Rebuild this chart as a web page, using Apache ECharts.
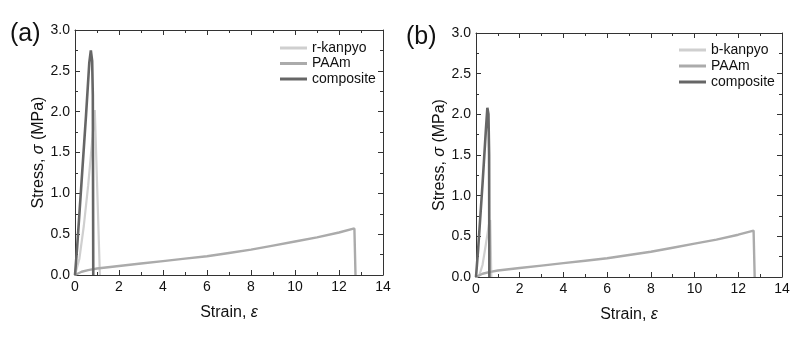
<!DOCTYPE html>
<html><head><meta charset="utf-8">
<script src="https://cdn.jsdelivr.net/npm/echarts@6/dist/echarts.min.js"></script>
<style>html,body{margin:0;padding:0;background:#fff}#c{width:800px;height:343px}</style>
</head><body><div id="c"></div>
<script>
// Panel (a)
const aKanpyo = [[0,0],[0.2,0.2],[0.4,0.6],[0.6,1.1],[0.8,1.7],[0.9,2.02],[0.95,2.0],[1.12,0.1],[1.13,0]];
const aPAAm = [[0,0],[0.3,0.04],[0.6,0.06],[1,0.08],[2,0.11],[3,0.14],[4,0.17],[5,0.2],[6,0.23],[7,0.27],[8,0.31],[9,0.36],[10,0.41],[11,0.46],[12,0.52],[12.7,0.57],[12.75,0]];
const aComposite = [[0,0],[0.1,0.35],[0.3,1.15],[0.5,1.95],[0.65,2.6],[0.72,2.75],[0.78,2.62],[0.81,2.2],[0.83,0]];
// Panel (b)
const bKanpyo = [[0,0],[0.15,0.02],[0.3,0.15],[0.45,0.4],[0.6,0.66],[0.65,0.7],[0.68,0.3],[0.7,0]];
const bPAAm = [[0,0],[0.3,0.04],[0.6,0.06],[1,0.08],[2,0.11],[3,0.14],[4,0.17],[5,0.2],[6,0.23],[7,0.27],[8,0.31],[9,0.36],[10,0.41],[11,0.46],[12,0.52],[12.7,0.57],[12.75,0]];
const bComposite = [[0,0],[0.1,0.35],[0.3,1.15],[0.45,1.8],[0.52,2.08],[0.57,2.0],[0.6,1.5],[0.61,0]];
const namesA = ['r-kanpyo','PAAm','composite'];
const namesB = ['b-kanpyo','PAAm','composite'];
const xTicks = {min:0,max:14,interval:2};
const yTicks = {min:0,max:3,interval:0.5};
const colors = ['#cfcfcf','#ababab','#666666'];

const font = 'Liberation Sans, Arial, sans-serif';
function xAx(grid, pos, show) {
  return {type:'value', gridIndex:grid, position:pos, min:xTicks.min, max:xTicks.max, interval:xTicks.interval,
    axisLine:{show:true, onZero:false, lineStyle:{color:'#333',width:1}},
    axisTick:{show:true, inside:true, length:5, lineStyle:{color:'#333'}},
    minorTick:{show:true, splitNumber:2, length:3, lineStyle:{color:'#333'}},
    splitLine:{show:false},
    axisLabel:{show:show, color:'#111', fontSize:14, fontFamily:font, margin:5, formatter:v=>String(v)},
    name: show ? 'Strain, {i|ε}' : '', nameLocation:'middle', nameGap:30,
    nameTextStyle:{color:'#111', fontSize:16, fontFamily:font, rich:{i:{fontStyle:'italic', fontSize:16, fontFamily:font, color:'#111'}}}};
}
function yAx(grid, pos, show) {
  return {type:'value', gridIndex:grid, position:pos, min:yTicks.min, max:yTicks.max, interval:yTicks.interval,
    axisLine:{show:true, onZero:false, lineStyle:{color:'#333',width:1}},
    axisTick:{show:true, inside:true, length:5, lineStyle:{color:'#333'}},
    minorTick:{show:true, splitNumber:2, length:3, lineStyle:{color:'#333'}},
    splitLine:{show:false},
    axisLabel:{show:show, color:'#111', fontSize:14, fontFamily:font, margin:5, formatter:v=>v.toFixed(1)},
    name: show ? 'Stress, {i|σ} (MPa)' : '', nameLocation:'middle', nameGap:27, nameRotate:90,
    nameTextStyle:{color:'#111', fontSize:16, fontFamily:font, rich:{i:{fontStyle:'italic', fontSize:16, fontFamily:font, color:'#111'}}}};
}
function ser(name, data, idx, color, w) {
  return {type:'line', name:name, data:data, xAxisIndex:idx*2, yAxisIndex:idx*2, showSymbol:false, symbol:'none',
    lineStyle:{color:color, width:w}, itemStyle:{color:color}, animation:false};
}
const chart = echarts.init(document.getElementById('c'), null, {renderer:'canvas'});
chart.setOption({
  animation:false,
  backgroundColor:'#fff',
  grid:[{left:75, top:30, width:308, height:245}, {left:476, top:33, width:306, height:244}],
  xAxis:[xAx(0,'bottom',true), xAx(0,'top',false), xAx(1,'bottom',true), xAx(1,'top',false)],
  yAxis:[yAx(0,'left',true), yAx(0,'right',false), yAx(1,'left',true), yAx(1,'right',false)],
  legend:[
    {data:namesA.map(n=>({name:n})), orient:'vertical', left:280, top:41, padding:0, itemWidth:27, itemHeight:3, itemGap:1.5, icon:'rect',
     textStyle:{fontSize:14, fontFamily:font, color:'#111', padding:[0,0,0,0]}, selectedMode:false},
    {data:namesB.map(n=>({name:n+' '})), orient:'vertical', left:679, top:43, padding:0, itemWidth:27, itemHeight:3, itemGap:2, icon:'rect',
     textStyle:{fontSize:14, fontFamily:font, color:'#111', padding:[0,0,0,0]}, selectedMode:false, formatter:n=>n.trim()}
  ],
  series:[
    ser(namesA[0], aKanpyo, 0, colors[0], 2.2),
    ser(namesA[1], aPAAm, 0, colors[1], 2.4),
    ser(namesA[2], aComposite, 0, colors[2], 2.6),
    ser(namesB[0]+' ', bKanpyo, 1, colors[0], 2.2),
    ser(namesB[1]+' ', bPAAm, 1, colors[1], 2.4),
    ser(namesB[2]+' ', bComposite, 1, colors[2], 2.6)
  ],
  graphic:[
    {type:'text', left:10, top:22, style:{text:'(a)', font:'25px '+font, fill:'#111'}},
    {type:'text', left:406, top:25, style:{text:'(b)', font:'25px '+font, fill:'#111'}}
  ]
});
</script></body></html>
